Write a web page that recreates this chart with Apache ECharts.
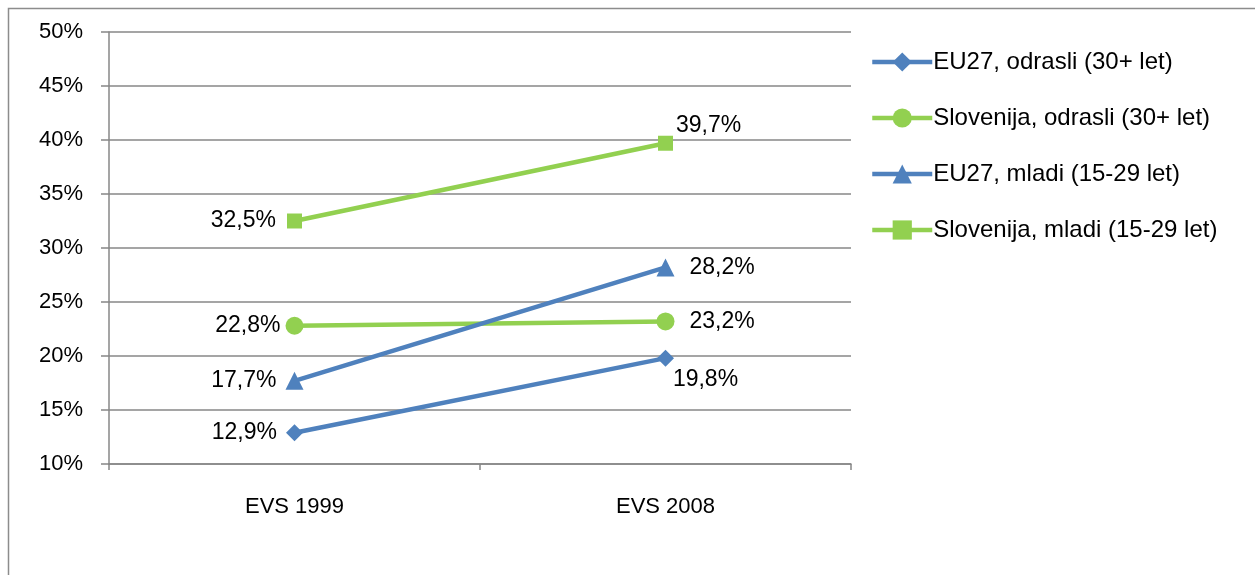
<!DOCTYPE html>
<html><head><meta charset="utf-8">
<script src="https://cdn.jsdelivr.net/npm/echarts@6/dist/echarts.min.js"></script>
<style>html,body{margin:0;padding:0;background:#fff}#c{width:1255px;height:575px}</style>
</head><body><div id="c"></div>
<script>
const categories = ['EVS 1999', 'EVS 2008'];
const seriesNames = ['EU27, odrasli (30+ let)', 'Slovenija, odrasli (30+ let)', 'EU27, mladi (15-29 let)', 'Slovenija, mladi (15-29 let)'];
const eu27Odrasli = [12.9, 19.8];
const sloOdrasli = [22.8, 23.2];
const eu27Mladi = [17.7, 28.2];
const sloMladi = [32.5, 39.7];
const yTicks = [10, 15, 20, 25, 30, 35, 40, 45, 50];

const BLUE = '#4F81BD', GREEN = '#92D050';
const FONT = 'Liberation Sans';
const FS = 22;
const FS_LBL = 23;
const FS_LEG = 24;
const fmt = v => v.toFixed(1).replace('.', ',') + '%';

function mk(name, data, color, symbol, size, positions) {
  return {
    name, type: 'line', data: data.map((v, i) => ({
      value: v,
      label: { position: positions[i][0], offset: positions[i][1] || [0, 0] }
    })),
    symbol, symbolSize: size,
    lineStyle: { color, width: 4.5 },
    itemStyle: { color },
    label: { show: true, formatter: p => fmt(p.value), color: '#000', fontFamily: FONT, fontSize: FS_LBL, distance: 9 },
    z: 3
  };
}

const chart = echarts.init(document.getElementById('c'));
chart.setOption({
  animation: false,
  textStyle: { fontFamily: FONT },
  graphic: [{ type: 'rect', shape: { x: 8.5, y: 8.5, width: 1300, height: 700 }, style: { fill: 'none', stroke: '#8c8c8c', lineWidth: 1.5 }, z: -1 }],
  grid: { left: 109, right: 1255 - 851, top: 32, bottom: 575 - 464 },
  legend: {
    orient: 'vertical', left: 870, top: 50, padding: 0, itemGap: 32, itemWidth: 60, itemHeight: 24,
    lineStyle: { width: 4.5 },
    textStyle: { fontFamily: FONT, fontSize: FS_LEG, color: '#000', padding: [0, 0, 0, -4] },
    data: seriesNames
  },
  xAxis: {
    type: 'category', data: categories, boundaryGap: true,
    axisLine: { lineStyle: { color: '#878787', width: 1.5 } },
    axisTick: { show: true, length: 6, lineStyle: { color: '#878787', width: 1.5 } },
    axisLabel: { color: '#000', fontFamily: FONT, fontSize: FS, margin: 32 }
  },
  yAxis: {
    type: 'value', min: 10, max: 50, interval: 5,
    axisLine: { show: true, lineStyle: { color: '#878787', width: 1.5 } },
    axisTick: { show: true, length: 8, lineStyle: { color: '#878787', width: 1.5 } },
    splitLine: { lineStyle: { color: '#878787', width: 1.5 } },
    axisLabel: { color: '#000', fontFamily: FONT, fontSize: FS, margin: 26, formatter: v => yTicks.includes(v) ? v + '%' : '' }
  },
  series: [
    mk(seriesNames[0], eu27Odrasli, BLUE, 'diamond', 17, [['left'], ['bottom', [40, -8]]]),
    mk(seriesNames[1], sloOdrasli, GREEN, 'circle', 18, [['left', [4, 0]], ['right', [6, 0]]]),
    mk(seriesNames[2], eu27Mladi, BLUE, 'triangle', 18, [['left'], ['right', [6, 0]]]),
    mk(seriesNames[3], sloMladi, GREEN, 'rect', 15, [['left', [-2, 0]], ['right', [-6, -18]]])
  ]
});
</script></body></html>
